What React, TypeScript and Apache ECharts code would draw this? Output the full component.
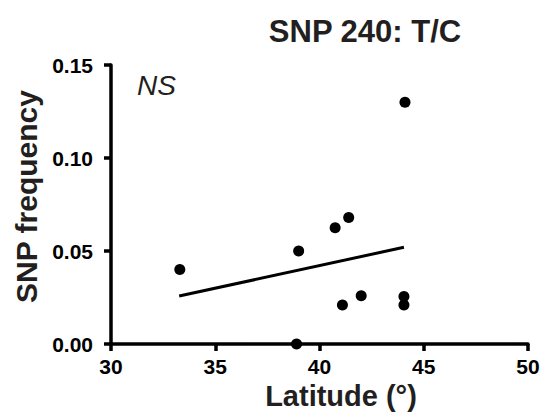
import React, { useEffect, useRef } from "react";
import * as echarts from "echarts";

const latitude = [33.3, 39.0, 38.9, 40.75, 41.4, 41.1, 42.0, 44.1, 44.05, 44.05];
const snpFrequency = [0.040, 0.050, 0.000, 0.0625, 0.068, 0.021, 0.026, 0.130, 0.0255, 0.021];
const fitLatitude = [33.27, 44.05];
const fitFrequency = [0.0258, 0.052];
const xTicks = { min: 30, max: 50, interval: 5 };
const yTicks = { min: 0, max: 0.15, interval: 0.05 };

const FONT = "'Liberation Sans', Arial, Helvetica, sans-serif";
const INK = "#231f20";

export default function App() {
  const ref = useRef<HTMLDivElement>(null);
  useEffect(() => {
    if (!ref.current) return;
    const chart = echarts.init(ref.current, null, { renderer: "svg" });
    chart.setOption({
      animation: false,
      backgroundColor: "#ffffff",
      title: {
        text: "SNP 240: T/C",
        left: 365,
        top: 16,
        textAlign: "center",
        padding: 0,
        textStyle: { fontFamily: FONT, fontSize: 31, fontWeight: "bold", color: INK },
      },
      grid: { left: 111, right: 21, top: 65, bottom: 76, outerBoundsMode: "none" },
      xAxis: {
        type: "value",
        min: xTicks.min,
        max: xTicks.max,
        interval: xTicks.interval,
        name: "Latitude (°)",
        nameLocation: "middle",
        nameGap: 37,
        nameTextStyle: {
          fontFamily: FONT,
          fontSize: 29,
          fontWeight: "bold",
          color: INK,
          padding: [0, 0, 0, 43],
        },
        axisLine: { show: true, onZero: false, lineStyle: { color: "#000", width: 3.5 } },
        axisTick: { show: true, inside: false, length: 7, lineStyle: { color: "#000", width: 3.5 } },
        axisLabel: { fontFamily: FONT, fontSize: 21, fontWeight: "bold", color: "#000", margin: 12 },
        splitLine: { show: false },
      },
      yAxis: {
        type: "value",
        min: yTicks.min,
        max: yTicks.max,
        interval: yTicks.interval,
        name: "SNP frequency",
        nameLocation: "middle",
        nameRotate: 90,
        nameGap: 65,
        nameTextStyle: {
          fontFamily: FONT,
          fontSize: 30,
          fontWeight: "bold",
          color: INK,
          padding: [0, 0, 0, 16],
        },
        axisLine: { show: true, onZero: false, lineStyle: { color: "#000", width: 3.5 } },
        axisTick: { show: true, inside: false, length: 7, lineStyle: { color: "#000", width: 3.5 } },
        axisLabel: {
          fontFamily: FONT,
          fontSize: 21,
          fontWeight: "bold",
          color: "#000",
          margin: 18,
          formatter: (v: number) => v.toFixed(2),
        },
        splitLine: { show: false },
      },
      graphic: [
        {
          type: "text",
          left: 137,
          top: 71,
          style: {
            text: "NS",
            fontFamily: FONT,
            fontSize: 28,
            fontStyle: "italic",
            fontWeight: "normal",
            fill: INK,
          },
        },
      ],
      series: [
        {
          type: "line",
          data: fitLatitude.map((x, i) => [x, fitFrequency[i]]),
          showSymbol: false,
          symbol: "none",
          lineStyle: { color: "#000", width: 3 },
          z: 2,
        },
        {
          type: "scatter",
          data: latitude.map((x, i) => [x, snpFrequency[i]]),
          symbol: "circle",
          symbolSize: 11,
          itemStyle: { color: "#000", opacity: 1 },
          clip: false,
          z: 3,
        },
      ],
    });
    return () => chart.dispose();
  }, []);
  return (
    <div
      ref={ref}
      style={{ position: "fixed", left: 0, top: 0, width: 549, height: 420, background: "#fff" }}
    />
  );
}
